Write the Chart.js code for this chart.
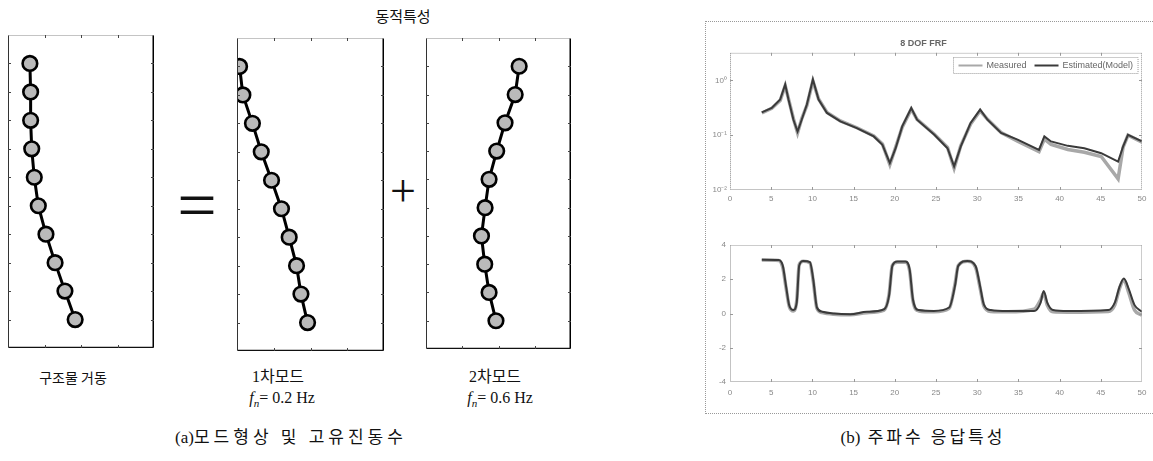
<!DOCTYPE html>
<html>
<head>
<meta charset="utf-8">
<script src="https://cdn.jsdelivr.net/npm/chart.js@4.4.1/dist/chart.umd.min.js"></script>
<style>
    body { margin: 0; background: #fff; }
    #wrap { position: relative; width: 1153px; height: 461px; overflow: hidden; color: #111;
            font-family: "Noto Sans CJK KR", sans-serif; }
    canvas { position: absolute; }
    .lbl { position: absolute; transform: translateX(-50%); white-space: nowrap; line-height: 1; }
    .serif { font-family: "Liberation Serif", "Noto Sans CJK KR", serif; }
    .tight { letter-spacing: 0; }
    #figB { position: absolute; left: 705px; top: 21px; width: 470px; height: 391px; border: 1px dotted #999; }
</style>
</head>
<body>
<div id="wrap">

    <div class="lbl" style="left:403px; top:8px; font-size:15px;">동적특성</div>

    <canvas id="cStruct" width="146" height="313" style="left:8px; top:35px;"></canvas>
    <canvas id="cMode1" width="147" height="313" style="left:237px; top:38px;"></canvas>
    <canvas id="cMode2" width="145" height="311" style="left:426px; top:38px;"></canvas>

    <div class="lbl serif" style="left:197px; top:171px; font-size:70px;">=</div>
    <div class="lbl serif" style="left:403px; top:168px; font-size:46px;">+</div>

    <div class="lbl" style="left:73px; top:370px; font-size:14px;">구조물 거동</div>
    <div class="lbl serif" style="left:278px; top:369px; font-size:16px;">1차모드</div>
    <div class="lbl serif" style="left:282px; top:390px; font-size:16px;"><i>f</i><sub style="font-size:11px"><i>n</i></sub>= 0.2 Hz</div>
    <div class="lbl serif" style="left:495px; top:369px; font-size:16px;">2차모드</div>
    <div class="lbl serif" style="left:500px; top:390px; font-size:16px;"><i>f</i><sub style="font-size:11px"><i>n</i></sub>= 0.6 Hz</div>

    <div class="lbl serif" style="left:291px; top:429px; font-size:17px; letter-spacing:4px;"><span class="tight">(a)</span>모드형상 및 고유진동수</div>
    <div class="lbl serif" style="left:923px; top:429px; font-size:17px; letter-spacing:3px;"><span class="tight">(b)</span> 주파수 응답특성</div>

    <div id="figB"></div>
    <canvas id="cMag" width="448" height="183" style="left:705px; top:22px;"></canvas>
    <canvas id="cPhase" width="448" height="175" style="left:705px; top:230px;"></canvas>

</div>
<script>

// mode shapes (floor 1 at the bottom)
const floors = [1, 2, 3, 4, 5, 6, 7, 8, 9, 10];
const structShape = [1.84, 1.56, 1.29, 1.04, 0.83, 0.72, 0.65, 0.62, 0.62, 0.60];
const mode1Shape = [1.92, 1.74, 1.62, 1.42, 1.21, 0.94, 0.66, 0.42, 0.16, 0.07];
const mode2Shape = [1.93, 1.74, 1.62, 1.53, 1.63, 1.74, 1.95, 2.18, 2.46, 2.57];

// FRF magnitude
const freqMag = [3.86, 5.07, 6.09, 6.7, 7.1, 7.7, 8.2, 8.7, 9.33, 10.06,
    10.75, 11.77, 13.4, 15.4, 17.45, 18.5, 19.4, 20.1, 20.9, 22.0,
    22.7, 24.8, 26.4, 27.2, 28.0, 29.2, 30.36, 31.25, 32.9, 34.9,
    37.5, 38.15, 38.96, 41, 43, 45.05, 47.1, 47.7, 48.3, 50];
const magMeasured = [0.255, 0.31, 0.43, 0.80, 0.46, 0.20, 0.110, 0.20, 0.35, 0.98,
    0.46, 0.26, 0.182, 0.137, 0.097, 0.069, 0.029, 0.060, 0.14, 0.30,
    0.195, 0.104, 0.060, 0.025, 0.064, 0.16, 0.28, 0.195, 0.112, 0.078,
    0.050, 0.085, 0.068, 0.055, 0.049, 0.041, 0.016, 0.060, 0.100, 0.075];
const magEstimated = [0.262, 0.315, 0.448, 0.845, 0.448, 0.192, 0.117, 0.192, 0.363, 1.04,
    0.448, 0.255, 0.179, 0.135, 0.095, 0.067, 0.031, 0.058, 0.145, 0.315,
    0.192, 0.102, 0.058, 0.027, 0.062, 0.168, 0.294, 0.192, 0.110, 0.083,
    0.054, 0.095, 0.077, 0.064, 0.058, 0.047, 0.033, 0.062, 0.102, 0.077];

// FRF phase (rad)
const freqPhase = [3.86, 5.9, 6.4, 6.8, 7.2, 7.7, 8.1, 8.4, 8.9, 9.7,
    10.1, 10.55, 11.2, 12.6, 14.6, 16.6, 18.7, 19.3, 19.7, 20.3,
    21.3, 21.8, 22.2, 22.9, 24.75, 26.6, 27.3, 27.7, 28.8, 29.8,
    30.35, 30.8, 31.65, 33.7, 36.9, 37.7, 38.07, 38.5, 39.2, 41,
    45.9, 46.7, 47.3, 47.8, 48.4, 49.1, 50];
const phaseMeasured = [3.12, 3.1, 2.7, 1.5, 0.4, 0.15, 0.75, 2.85, 3.05, 2.95,
    1.9, 0.3, 0.05, -0.05, -0.08, 0.05, 0.2, 1.1, 2.8, 3.0,
    3.0, 2.5, 0.75, 0.15, 0.1, 0.3, 1.7, 2.8, 3.05, 2.7,
    1.5, 0.45, 0.12, 0.1, 0.25, 0.8, 1.2, 0.5, 0.1, 0.08,
    0.12, 0.5, 1.5, 1.95, 1.2, 0.2, -0.1];
const phaseEstimated = [3.14, 3.12, 2.8, 1.6, 0.45, 0.2, 0.65, 2.8, 3.07, 3.0,
    2.0, 0.35, 0.1, 0.0, -0.04, 0.1, 0.25, 1.03, 2.78, 3.03,
    3.03, 2.58, 0.83, 0.2, 0.15, 0.35, 1.6, 2.78, 3.07, 2.78,
    1.6, 0.54, 0.2, 0.14, 0.14, 0.64, 1.32, 0.64, 0.2, 0.14,
    0.2, 0.64, 1.6, 2.04, 1.42, 0.49, 0.1];

// tick labels
const magTicks = [0.01, 0.1, 1];
const magTickLabels = ["10\u207B\u00B2", "10\u207B\u00B9", "10\u2070"];
const phaseTicks = [-4, -2, 0, 2, 4];
const seriesLabels = ["Measured", "Estimated(Model)"];
const frfTitle = "8 DOF FRF";


const toPoints = (xs, ys) => xs.map((x, i) => ({x: x, y: ys[i]}));

// box around the plot area with short inward ticks on all four sides
const frameTicks = {
    id: "frameTicks",
    afterDatasetsDraw(chart, args, o) {
        const {ctx, chartArea: a, scales} = chart;
        ctx.save();
        const edge = (x1, y1, x2, y2, e) => {
            ctx.strokeStyle = e[0];
            ctx.lineWidth = e[1];
            ctx.setLineDash(e[2] || []);
            ctx.beginPath();
            ctx.moveTo(x1, y1);
            ctx.lineTo(x2, y2);
            ctx.stroke();
        };
        const l = a.left + 0.5, r = a.right - 0.5, t = a.top + 0.5, b = a.bottom - 0.5;
        edge(l, t, r, t, o.edges[0]);
        edge(r, t, r, b, o.edges[1]);
        edge(l, b, r, b, o.edges[2]);
        edge(l, t, l, b, o.edges[3]);
        const tick = [o.tickColor, 1];
        scales.x.ticks.forEach((tk) => {
            const px = Math.round(scales.x.getPixelForValue(tk.value)) + 0.5;
            if (px <= a.left + 2 || px >= a.right - 2) return;
            edge(px, a.top, px, a.top + o.len, tick);
            edge(px, a.bottom, px, a.bottom - o.len, tick);
        });
        scales.y.ticks.forEach((tk) => {
            const py = Math.round(scales.y.getPixelForValue(tk.value)) + 0.5;
            if (py <= a.top + 2 || py >= a.bottom - 2) return;
            edge(a.left, py, a.left + o.len, py, tick);
            edge(a.right, py, a.right - o.len, py, tick);
        });
        ctx.restore();
    }
};

// single row legend drawn in a box at the top right of the plot area
const boxLegend = {
    id: "boxLegend",
    afterDraw(chart, args, o) {
        if (!o.show) return;
        const {ctx, chartArea: a} = chart;
        ctx.save();
        ctx.font = o.font;
        const sample = 24, gap = 4, space = 8, padX = 5, h = 16;
        const items = chart.data.datasets;
        let w = padX * 2;
        items.forEach((d, i) => {
            w += sample + gap + ctx.measureText(d.label).width + (i ? space : 0);
        });
        const x0 = Math.round(a.right - 4 - w) + 0.5, y0 = Math.round(a.top + 4) + 0.5;
        ctx.fillStyle = "#fff";
        ctx.fillRect(x0, y0, w, h);
        ctx.strokeStyle = "#999";
        ctx.lineWidth = 1;
        ctx.setLineDash([1, 1]);
        ctx.strokeRect(x0, y0, w, h);
        let x = x0 + padX;
        const cy = y0 + h / 2;
        items.forEach((d, i) => {
            if (i) x += space;
            ctx.strokeStyle = d.borderColor;
            ctx.lineWidth = 2;
            ctx.setLineDash(d.borderDash || []);
            ctx.beginPath();
            ctx.moveTo(x, cy);
            ctx.lineTo(x + sample, cy);
            ctx.stroke();
            x += sample + gap;
            ctx.fillStyle = o.color;
            ctx.textBaseline = "middle";
            ctx.fillText(d.label, x, cy);
            x += ctx.measureText(d.label).width;
        });
        ctx.restore();
    }
};


function modePanel(id, shape) {

    return new Chart(document.getElementById(id), {
        type: "scatter",
        data: {
            datasets: [{
                data: toPoints(shape, floors),
                showLine: true,
                borderColor: "#000",
                borderWidth: 3,
                pointRadius: 7.3,
                pointBorderWidth: 2.6,
                pointBackgroundColor: "#bababa",
                pointBorderColor: "#000",
                clip: 0,
            }],
        },
        options: {
            responsive: false,
            animation: false,
            events: [],
            layout: {padding: 0, autoPadding: false},
            plugins: {
                legend: {display: false},
                tooltip: {enabled: false},
                frameTicks: {
                    edges: [["#888", 1, [1, 1]], ["#000", 2], ["#111", 1.5], ["#333", 1]],
                    tickColor: "#444",
                    len: 3,
                },
            },
            scales: {
                x: {display: false, min: 0, max: 4, ticks: {stepSize: 1}},
                y: {display: false, min: 0, max: 11, ticks: {stepSize: 1}},
            },
        },
        plugins: [frameTicks],
    });
}

modePanel("cStruct", structShape);
modePanel("cMode1", mode1Shape);
modePanel("cMode2", mode2Shape);


const tickFont = {family: "Liberation Sans", size: 8};
const tickColor = "#888";
const frameOpts = {
    edges: [["#999", 1, [1, 1]], ["#999", 1, [1, 1]], ["#888", 1, [1, 1]], ["#888", 1, [1, 1]]],
    tickColor: "#999",
    len: 3,
};

function frfChart(id, cfg) {

    return new Chart(document.getElementById(id), {
        type: "scatter",
        data: {
            datasets: [
                {
                    label: seriesLabels[0],
                    data: toPoints(cfg.freq, cfg.measured),
                    showLine: true,
                    borderColor: "#a8a8a8",
                    borderWidth: 3.5,
                    pointRadius: 0,
                    order: 2,
                    cubicInterpolationMode: cfg.smooth ? "monotone" : "default",
                },
                {
                    label: seriesLabels[1],
                    data: toPoints(cfg.freq, cfg.estimated),
                    showLine: true,
                    borderColor: "#3a3a3a",
                    borderWidth: 2,
                    pointRadius: 0,
                    order: 1,
                    cubicInterpolationMode: cfg.smooth ? "monotone" : "default",
                },
            ],
        },
        options: {
            responsive: false,
            animation: false,
            events: [],
            layout: {padding: {top: cfg.padTop, right: 11, left: 0, bottom: 0}, autoPadding: false},
            plugins: {
                legend: {display: false},
                tooltip: {enabled: false},
                title: {
                    display: !!cfg.title,
                    text: cfg.title,
                    color: "#666",
                    font: {family: "Liberation Sans", size: 9, lineHeight: 1.2},
                    padding: {top: 16, bottom: 4},
                },
                frameTicks: frameOpts,
                boxLegend: {show: cfg.legend, font: "9px Liberation Sans", color: "#666"},
            },
            scales: {
                x: {
                    type: "linear",
                    min: 0,
                    max: 50,
                    grid: {display: false, drawTicks: false},
                    border: {display: false},
                    ticks: {stepSize: 5, color: tickColor, font: tickFont, padding: cfg.xPad, maxRotation: 0},
                    afterFit: (s) => { s.height = cfg.xHeight; },
                },
                y: cfg.y,
            },
        },
        plugins: [frameTicks, boxLegend],
    });
}

frfChart("cMag", {
    freq: freqMag,
    measured: magMeasured,
    estimated: magEstimated,
    smooth: false,
    title: frfTitle,
    legend: true,
    padTop: 0,
    xPad: 4,
    xHeight: 15,
    y: {
        type: "logarithmic",
        min: 0.01,
        max: 3.2,
        grid: {display: false, drawTicks: false},
        border: {display: false},
        afterBuildTicks: (s) => { s.ticks = magTicks.map((v) => ({value: v})); },
        ticks: {
            color: tickColor,
            font: tickFont,
            padding: 3,
            callback: (v) => magTickLabels[magTicks.indexOf(v)],
        },
        afterFit: (s) => { s.width = 25; },
    },
});

frfChart("cPhase", {
    freq: freqPhase,
    measured: phaseMeasured,
    estimated: phaseEstimated,
    smooth: true,
    title: "",
    legend: false,
    padTop: 15,
    xPad: 6,
    xHeight: 23,
    y: {
        type: "linear",
        min: -4,
        max: 4,
        grid: {display: false, drawTicks: false},
        border: {display: false},
        afterBuildTicks: (s) => { s.ticks = phaseTicks.map((v) => ({value: v})); },
        ticks: {color: tickColor, font: tickFont, padding: 4},
        afterFit: (s) => { s.width = 25; },
    },
});

</script>
</body>
</html>
